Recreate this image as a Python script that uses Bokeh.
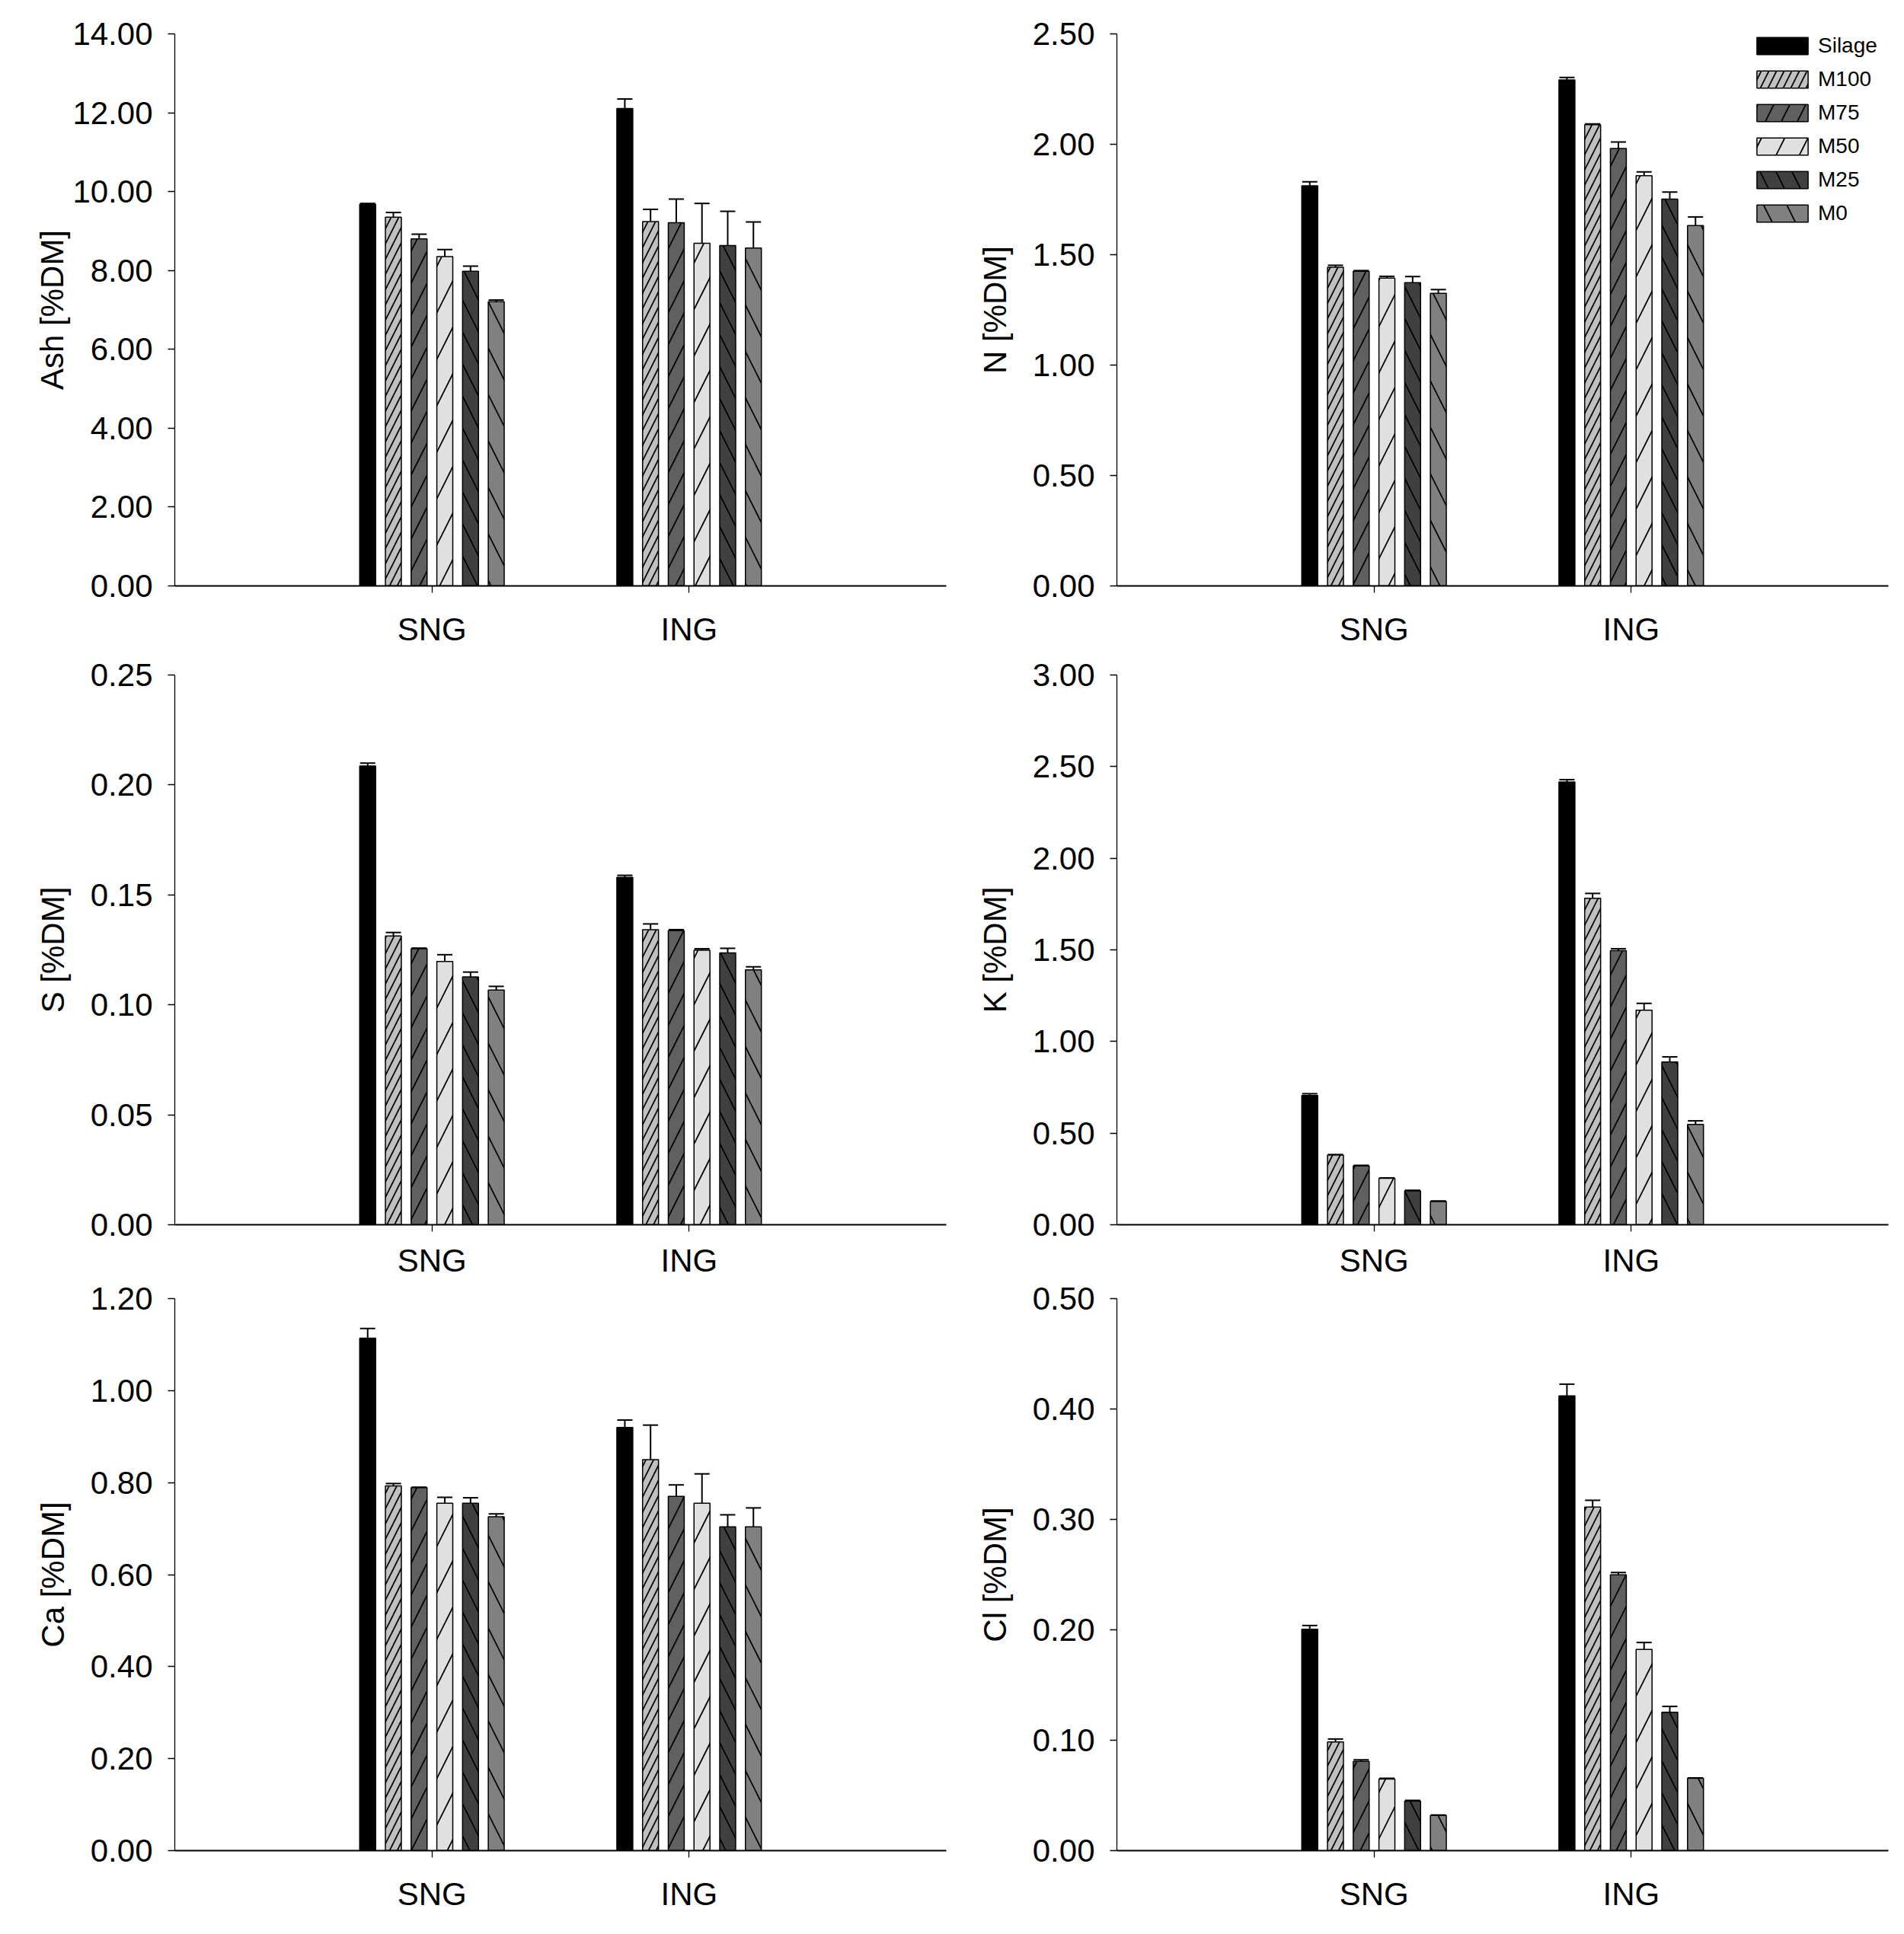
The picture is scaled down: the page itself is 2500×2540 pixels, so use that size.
from bokeh.plotting import figure
from bokeh.models import (Range1d, FixedTicker, PrintfTickFormatter, ColumnDataSource,
                          Whisker, TeeHead, Legend, LegendItem)
from bokeh.layouts import gridplot
from bokeh.embed import file_html
from bokeh.resources import INLINE

# ---------------- data ----------------
groups = ["SNG", "ING"]
treatments = ["Silage", "M100", "M75", "M50", "M25", "M0"]

ash_sng = [9.68, 9.35, 8.80, 8.35, 7.98, 7.21]
ash_sng_err = [0.02, 0.12, 0.12, 0.18, 0.13, 0.04]
ash_ing = [12.11, 9.24, 9.21, 8.69, 8.63, 8.57]
ash_ing_err = [0.24, 0.31, 0.60, 1.01, 0.87, 0.66]

n_sng = [1.812, 1.443, 1.425, 1.394, 1.373, 1.325]
n_sng_err = [0.018, 0.009, 0.003, 0.008, 0.028, 0.017]
n_ing = [2.291, 2.089, 1.981, 1.858, 1.752, 1.632]
n_ing_err = [0.012, 0.003, 0.029, 0.017, 0.032, 0.039]

s_sng = [0.2086, 0.1313, 0.1255, 0.1197, 0.1127, 0.1067]
s_sng_err = [0.0013, 0.0016, 0.0003, 0.0031, 0.0022, 0.0017]
s_ing = [0.1580, 0.1342, 0.1337, 0.1248, 0.1236, 0.1159]
s_ing_err = [0.0009, 0.0026, 0.0005, 0.0007, 0.0021, 0.0014]

k_sng = [0.705, 0.380, 0.321, 0.253, 0.185, 0.127]
k_sng_err = [0.010, 0.003, 0.003, 0.003, 0.003, 0.003]
k_ing = [2.416, 1.781, 1.496, 1.171, 0.888, 0.547]
k_ing_err = [0.013, 0.027, 0.010, 0.037, 0.028, 0.020]

ca_sng = [1.114, 0.793, 0.789, 0.755, 0.755, 0.726]
ca_sng_err = [0.021, 0.005, 0.001, 0.013, 0.012, 0.006]
ca_ing = [0.920, 0.850, 0.770, 0.755, 0.704, 0.704]
ca_ing_err = [0.016, 0.075, 0.025, 0.064, 0.026, 0.041]

cl_sng = [0.2005, 0.0984, 0.0809, 0.0648, 0.0449, 0.0319]
cl_sng_err = [0.0034, 0.0027, 0.0013, 0.0007, 0.0007, 0.0003]
cl_ing = [0.4119, 0.3112, 0.2498, 0.1823, 0.1254, 0.0655]
cl_ing_err = [0.0106, 0.0061, 0.0021, 0.0062, 0.0052, 0.0003]

# ---------------- styles ----------------
FONT = "Liberation Sans"
fills = ["#000000", "#c0c0c0", "#606060", "#e0e0e0", "#404040", "#808080"]
hatches = [None, "/", "/", "/", "\\", "\\"]
hatch_scales = [12, 20, 42, 61, 42, 61]
BAR_W = 0.062
STEP = 0.1


def make_panel(ylabel, ymax, ystep, sng, sng_err, ing, ing_err,
               width, height, bl, br, bt, bb, ylab_standoff, xlab_standoff,
               legend=False):
    p = figure(width=width, height=height, output_backend="svg", toolbar_location=None,
               x_range=Range1d(0, 3), y_range=Range1d(0, ymax),
               min_border_left=bl, min_border_right=br,
               min_border_top=bt, min_border_bottom=bb)
    p.outline_line_color = None
    p.xgrid.visible = False
    p.ygrid.visible = False
    p.background_fill_color = "white"
    p.border_fill_color = "white"

    renderers = []
    for k, t in enumerate(treatments):
        off = (k - (len(treatments) - 1) / 2) * STEP
        xs = [gi + 1 + off for gi in range(len(groups))]
        tops = [sng[k], ing[k]]
        ups = [sng[k] + sng_err[k], ing[k] + ing_err[k]]
        src = ColumnDataSource(dict(x=xs, top=tops, upper=ups))
        kw = dict(fill_color=fills[k], line_color="black", line_width=1.5)
        if hatches[k]:
            kw.update(hatch_pattern=hatches[k], hatch_scale=hatch_scales[k],
                      hatch_weight=1.7, hatch_color="black")
        r = p.vbar(x="x", top="top", bottom=0, width=BAR_W, source=src, **kw)
        renderers.append(r)
        p.add_layout(Whisker(source=src, base="x", upper="upper", lower="top",
                             dimension="height", line_width=2, line_color="black",
                             upper_head=TeeHead(size=20, line_width=2, line_color="black"),
                             lower_head=None))

    nt = int(round(ymax / ystep))
    p.yaxis.ticker = FixedTicker(ticks=[round(i * ystep, 6) for i in range(nt + 1)])
    p.yaxis.formatter = PrintfTickFormatter(format="%.2f")
    p.yaxis.minor_tick_line_color = None
    p.yaxis.major_tick_out = 9
    p.yaxis.major_tick_in = 0
    p.yaxis.axis_line_width = 1.3
    p.yaxis.major_tick_line_width = 1.3
    p.yaxis.major_label_standoff = 20
    p.yaxis.major_label_text_font = FONT
    p.yaxis.major_label_text_font_size = "42px"
    p.yaxis.major_label_text_color = "black"
    p.yaxis.axis_label = ylabel
    p.yaxis.axis_label_text_font = FONT
    p.yaxis.axis_label_text_font_style = "normal"
    p.yaxis.axis_label_text_font_size = "42px"
    p.yaxis.axis_label_text_color = "black"
    p.yaxis.axis_label_standoff = ylab_standoff

    p.xaxis.ticker = FixedTicker(ticks=[gi + 1 for gi in range(len(groups))])
    p.xaxis.major_label_overrides = {gi + 1: g for gi, g in enumerate(groups)}
    p.xaxis.minor_tick_line_color = None
    p.xaxis.major_tick_out = 9
    p.xaxis.major_tick_in = 0
    p.xaxis.axis_line_width = 2
    p.xaxis.major_tick_line_width = 1.3
    p.xaxis.major_label_standoff = xlab_standoff
    p.xaxis.major_label_text_font = FONT
    p.xaxis.major_label_text_font_size = "42px"
    p.xaxis.major_label_text_color = "black"

    if legend:
        items = [LegendItem(label=t, renderers=[renderers[k]]) for k, t in enumerate(treatments)]
        lg = Legend(items=items, location=(832, 473), orientation="vertical",
                    glyph_width=84, glyph_height=28, label_height=33, spacing=11,
                    label_standoff=5, padding=0, margin=0,
                    label_text_font=FONT, label_text_font_size="28px",
                    label_text_color="black",
                    border_line_alpha=0, background_fill_alpha=0)
        p.add_layout(lg)
    return p


WL, WR = 1246, 1244
H1, H2, H3 = 852, 829, 844

p1 = make_panel("Ash [%DM]", 14, 2, ash_sng, ash_sng_err, ash_ing, ash_ing_err,
                WL, H1, 229, 4, 44, 82, 0, 24)
p2 = make_panel("N [%DM]", 2.5, 0.5, n_sng, n_sng_err, n_ing, n_ing_err,
                WR, H1, 220, 11, 44, 82, 23, 24, legend=True)
p3 = make_panel("S [%DM]", 0.25, 0.05, s_sng, s_sng_err, s_ing, s_ing_err,
                WL, H2, 229, 4, 34, 70, 23, 14)
p4 = make_panel("K [%DM]", 3.0, 0.5, k_sng, k_sng_err, k_ing, k_ing_err,
                WR, H2, 220, 11, 34, 70, 23, 14)
p5 = make_panel("Ca [%DM]", 1.2, 0.2, ca_sng, ca_sng_err, ca_ing, ca_ing_err,
                WL, H3, 229, 4, 24, 95, 23, 24)
p6 = make_panel("Cl [%DM]", 0.5, 0.1, cl_sng, cl_sng_err, cl_ing, cl_ing_err,
                WR, H3, 220, 11, 24, 95, 23, 24)

grid = gridplot([[p1, p2], [p3, p4], [p5, p6]], toolbar_location=None)

open("out.html", "w").write(file_html(grid, INLINE))
